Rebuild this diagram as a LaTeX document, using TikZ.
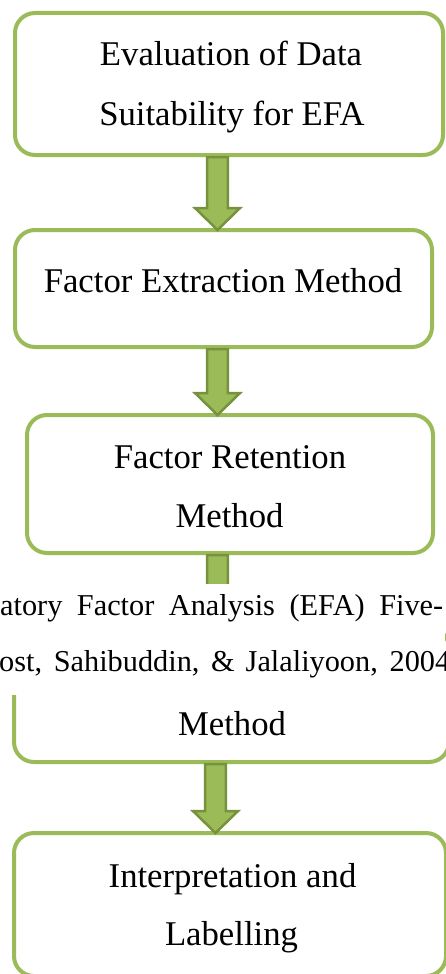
\documentclass[tikz,border=0pt]{standalone}
\usepackage{fontspec}
\setmainfont{Liberation Serif}
\usetikzlibrary{calc}
\definecolor{boxgreen}{HTML}{9BBB59}
\definecolor{darkgreen}{HTML}{76923C}
\tikzset{
  stepbox/.style={draw=boxgreen, line width=4pt, fill=white, rounded corners=20pt, inner sep=0pt},
  boxtext/.style={anchor=base, inner sep=0pt, font=\fontsize{34.7}{58}\selectfont},
  overtext/.style={anchor=base west, inner sep=0pt, font=\fontsize{30.3}{57}\selectfont},
  fatarrow/.style={draw=darkgreen, fill=boxgreen, line width=2.5pt, line join=miter},
  cover/.style={fill=white, draw=none}
}
\newcommand\fatarrow[3]{%
  \path[fatarrow] let \p1=(#1 -| #3), \p2=(#2 -| #3) in
   (\x1-10.3pt,\y1) -- (\x1+10.3pt,\y1) -- (\x1+10.3pt,\y2+20pt) -- (\x1+22.5pt,\y2+20pt)
   -- (\x1,\y2-2pt) -- (\x1-22.5pt,\y2+20pt) -- (\x1-10.3pt,\y2+20pt) -- cycle;}
\begin{document}
\begin{tikzpicture}[x=1pt,y=-1pt]
\useasboundingbox (0,0) rectangle (445,974);
% boxes
\node[stepbox, minimum width=428pt, minimum height=142pt] (b1) at (229,84) {};
\node[stepbox, minimum width=417pt, minimum height=117pt] (b2) at (223.5,288.5) {};
\node[stepbox, minimum width=406pt, minimum height=138pt] (b3) at (230,484) {};
\node[stepbox, minimum width=435pt, minimum height=134pt] (b4) at (231.5,695) {};
\node[stepbox, minimum width=432pt, minimum height=143pt] (b5) at (230,904.5) {};
% texts
\node[boxtext] (t1a) at (231,66) {Evaluation of Data};
\node[boxtext] (t1b) at (232,125) {Suitability for EFA};
\node[boxtext] (t2) at (223,292) {Factor Extraction Method};
\node[boxtext] (t3a) at (230,468) {Factor Retention};
\node[boxtext] (t3b) at (229.5,527) {Method};
\node[boxtext] (t4) at (232,735) {Method};
\node[boxtext] (t5a) at (232.5,887) {Interpretation and};
\node[boxtext] (t5b) at (231.5,945) {Labelling};
% arrows
\coordinate (ax) at (217.5,0);
\coordinate (ax4) at (215.5,0);
\fatarrow{b1.south}{b2.north}{ax}
\fatarrow{b2.south}{b3.north}{ax}
\fatarrow{b3.south}{b4.north}{ax}
\fatarrow{b4.south}{b5.north}{ax4}
% overlaid paragraph text
\node[cover, minimum width=445pt, minimum height=111pt, inner sep=0pt] (ov) at (222.5,639.5) {};
\node[overtext] (o1) at (0,615) {\makebox[443pt][s]{atory Factor Analysis (EFA) Five-}};
\node[overtext] (o2) at (-1,671) {\makebox[451pt][s]{ost, Sahibuddin, \& Jalaliyoon, 2004}};
\end{tikzpicture}
\end{document}
